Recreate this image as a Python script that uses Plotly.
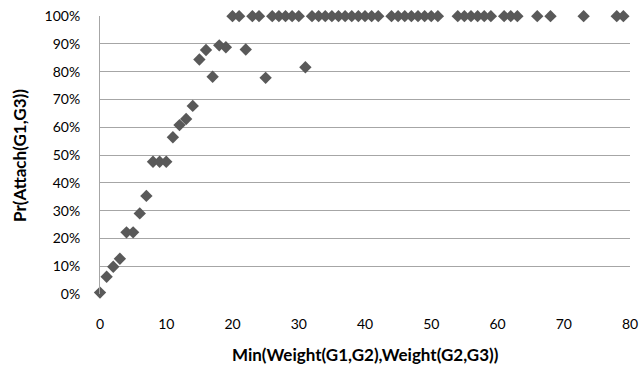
import plotly.graph_objects as go

# Data
min_weight = [0, 1, 2, 3, 4, 5, 6, 7, 8, 9, 10, 11, 12, 13, 14, 15, 16, 17, 18, 19,
              20, 21, 22, 23, 24, 25, 26, 27, 28, 29, 30, 31,
              32, 33, 34, 35, 36, 37, 38, 39, 40, 41, 42,
              44, 45, 46, 47, 48, 49, 50, 51,
              54, 55, 56, 57, 58, 59, 61, 62, 63, 66, 68, 73, 78, 79]
pr_attach = [0.005, 0.062, 0.098, 0.127, 0.222, 0.222, 0.290, 0.353, 0.476, 0.476, 0.476,
             0.564, 0.608, 0.630, 0.677, 0.844, 0.878, 0.782, 0.895, 0.888,
             1.0, 1.0, 0.880, 1.0, 1.0, 0.778, 1.0, 1.0, 1.0, 1.0, 1.0, 0.816,
             1.0, 1.0, 1.0, 1.0, 1.0, 1.0, 1.0, 1.0, 1.0, 1.0, 1.0,
             1.0, 1.0, 1.0, 1.0, 1.0, 1.0, 1.0, 1.0,
             1.0, 1.0, 1.0, 1.0, 1.0, 1.0, 1.0, 1.0, 1.0, 1.0, 1.0, 1.0, 1.0, 1.0]

x_ticks = [0, 10, 20, 30, 40, 50, 60, 70, 80]
y_ticks = [0, 0.1, 0.2, 0.3, 0.4, 0.5, 0.6, 0.7, 0.8, 0.9, 1.0]
y_tick_labels = ["0%", "10%", "20%", "30%", "40%", "50%", "60%", "70%", "80%", "90%", "100%"]

x_title = "Min(Weight(G1,G2),Weight(G2,G3))"
y_title = "Pr(Attach(G1,G3))"

FONT = "Lato"

fig = go.Figure()
fig.add_trace(go.Scatter(
    x=min_weight, y=pr_attach, mode="markers",
    marker=dict(symbol="diamond", size=9.5, color="#595959", line=dict(width=0)),
    cliponaxis=False, showlegend=False, hoverinfo="skip",
))

fig.update_layout(
    width=639, height=369,
    margin=dict(l=100, r=9, t=16, b=75, autoexpand=False),
    paper_bgcolor="white", plot_bgcolor="white",
    font=dict(family=FONT, size=14, color="#000000"),
    xaxis=dict(
        range=[0, 80], tickvals=x_ticks, showgrid=False, zeroline=False,
        showline=False, ticks="outside", ticklen=17, tickcolor="rgba(0,0,0,0)",
        tickfont=dict(family=FONT, size=14, color="#000000"),
        ticklabeloverflow="allow", automargin=False,
    ),
    yaxis=dict(
        range=[0, 1.0005], tickvals=y_ticks, ticktext=y_tick_labels,
        showgrid=True, gridcolor="#A6A6A6", gridwidth=1, zeroline=False,
        showline=True, linecolor="#A6A6A6", linewidth=1,
        ticks="outside", ticklen=16, tickcolor="rgba(0,0,0,0)",
        tickfont=dict(family=FONT, size=14, color="#000000"),
        ticklabeloverflow="allow", automargin=False,
    ),
    annotations=[
        dict(text="<b>" + x_title + "</b>", xref="paper", yref="paper",
             x=0.5, y=-0.216, xanchor="center", yanchor="middle", showarrow=False,
             font=dict(family=FONT, size=17, color="#000000")),
        dict(text="<b>" + y_title + "</b>", xref="paper", yref="paper",
             x=-0.153, y=0.5, xanchor="center", yanchor="middle", showarrow=False,
             textangle=-90, font=dict(family=FONT, size=17, color="#000000")),
    ],
)

# remove the browser's default 8px body margin so the figure fills the window
fig.write_html("out.html",
               config={"displayModeBar": False, "staticPlot": True},
               post_script="document.body.style.margin='0';document.body.style.overflow='hidden';")
